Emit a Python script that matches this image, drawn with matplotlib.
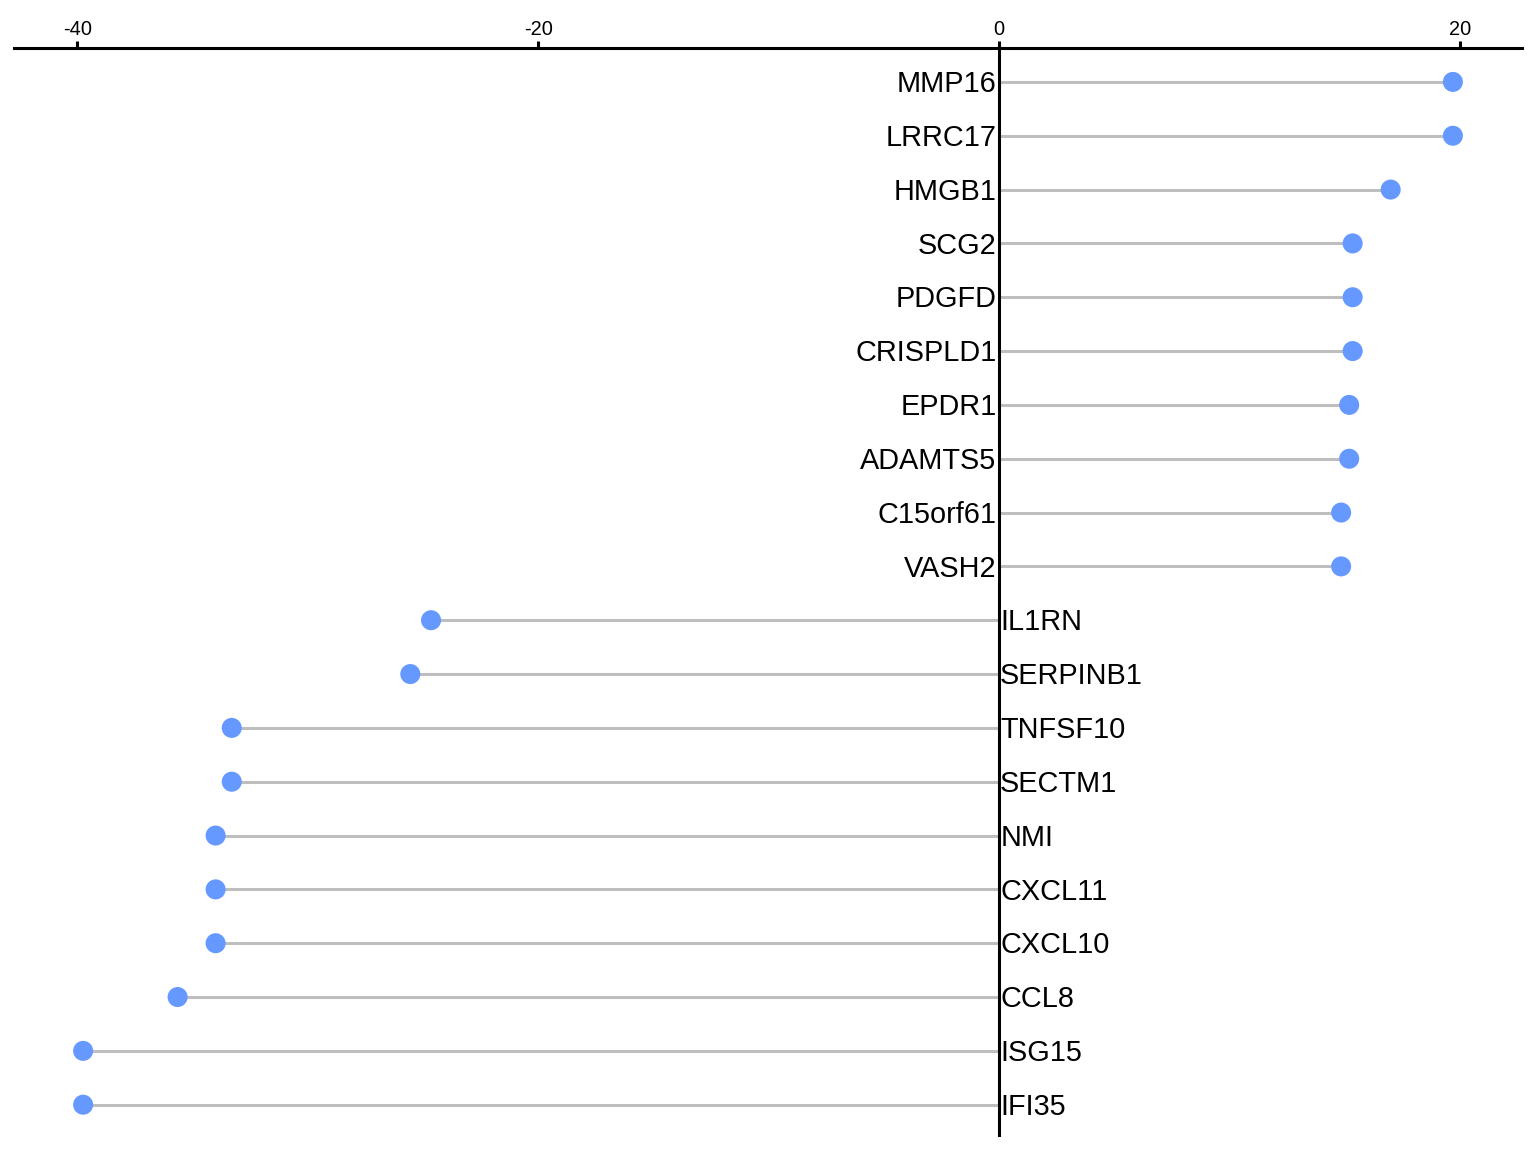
import numpy as np
import matplotlib
matplotlib.use("Agg")
import matplotlib.pyplot as plt

plt.rcParams['font.family'] = ['Liberation Sans', 'DejaVu Sans']

# data
genes = ["MMP16", "LRRC17", "HMGB1", "SCG2", "PDGFD", "CRISPLD1", "EPDR1",
         "ADAMTS5", "C15orf61", "VASH2", "IL1RN", "SERPINB1", "TNFSF10",
         "SECTM1", "NMI", "CXCL11", "CXCL10", "CCL8", "ISG15", "IFI35"]
values = [19.7, 19.7, 17.0, 15.35, 15.35, 15.35, 15.2, 15.2, 14.85, 14.85,
          -24.65, -25.55, -33.3, -33.3, -34.0, -34.0, -34.0, -35.65, -39.75, -39.75]
xticks = [-40, -20, 0, 20]

dot_color = "#6699FF"
stem_color = "#BEBEBE"

fig = plt.figure(figsize=(7.68, 5.76), dpi=200)
ax = fig.add_axes([14 / 1536, 1 - 1137 / 1152, (1522 - 14) / 1536, (1137 - 48) / 1152])

y = np.arange(len(genes))
vals = np.array(values)

ax.hlines(y, 0, vals, color=stem_color, linewidth=1.1, zorder=1)
ax.scatter(vals, y, s=52, color=dot_color, edgecolors="none", zorder=3)
ax.axvline(0, color="black", linewidth=1.1, zorder=2)

for yi, g, v in zip(y, genes, vals):
    if v > 0:
        ax.text(-0.1, yi + 0.04, g, ha="right", va="center", fontsize=10.4)
    else:
        ax.text(0.05, yi + 0.04, g, ha="left", va="center", fontsize=10.4)

ax.set_xlim(-42.75, 22.7)
ax.set_ylim(19.6, -0.63)

for side in ["left", "right", "bottom"]:
    ax.spines[side].set_visible(False)
ax.spines["top"].set_linewidth(1.1)

ax.xaxis.set_ticks_position("top")
ax.xaxis.set_label_position("top")
ax.set_xticks(xticks)
ax.set_xticklabels([str(t) for t in xticks])
ax.tick_params(axis="x", direction="out", length=2.5, width=1.1, labelsize=7.2, pad=0.8)
ax.set_yticks([])

fig.savefig("out.png", dpi=200)
